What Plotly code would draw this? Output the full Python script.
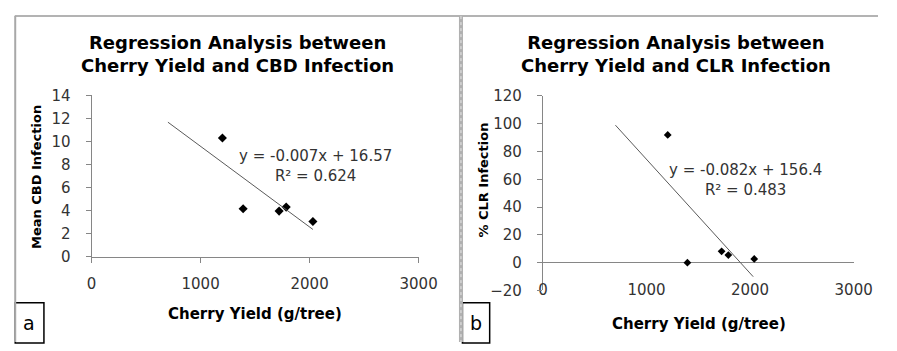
import plotly.graph_objects as go

# ---------------- data ----------------
yield_a = [1200, 1390, 1720, 1785, 2030]
cbd_infection = [10.3, 4.15, 3.95, 4.3, 3.05]
yield_b = [1205, 1395, 1725, 1790, 2040]
clr_infection = [92, 0, 8.2, 5.5, 2.7]

slope_a, intercept_a, r2_a = -0.007, 16.57, 0.624
slope_b, intercept_b, r2_b = -0.082, 156.4, 0.483
trend_x = [700, 2030]

x_ticks = [0, 1000, 2000, 3000]
y_ticks_a = [0, 2, 4, 6, 8, 10, 12, 14]
y_ticks_b = [-20, 0, 20, 40, 60, 80, 100, 120]

title_a = "Regression Analysis between<br>Cherry Yield and CBD Infection"
title_b = "Regression Analysis between<br>Cherry Yield and CLR Infection"
xlabel = "Cherry Yield (g/tree)"
ylabel_a = "Mean CBD Infection"
ylabel_b = "% CLR Infection"

# ---------------- layout helpers ----------------
W, H = 897, 351
def px(x):
    return x / W
def py(y):
    return 1 - y / H

FONT = "DejaVu Sans"
AX = "#868686"
TXT = "#333333"

fig = go.Figure()

fig.add_trace(go.Scatter(x=yield_a, y=cbd_infection, mode="markers",
                         marker=dict(symbol="diamond", size=7, color="black"),
                         xaxis="x", yaxis="y", showlegend=False))
fig.add_trace(go.Scatter(x=trend_x, y=[slope_a * v + intercept_a for v in trend_x],
                         mode="lines", line=dict(color="#5a5a5a", width=1),
                         xaxis="x", yaxis="y", showlegend=False))

fig.add_trace(go.Scatter(x=yield_b, y=clr_infection, mode="markers",
                         marker=dict(symbol="diamond", size=6, color="black"),
                         xaxis="x2", yaxis="y2", showlegend=False))
fig.add_trace(go.Scatter(x=trend_x, y=[slope_b * v + intercept_b for v in trend_x],
                         mode="lines", line=dict(color="#5a5a5a", width=1),
                         xaxis="x2", yaxis="y2", showlegend=False))

tickfont = dict(family=FONT, size=15, color=TXT)

fig.update_layout(
    width=W, height=H, margin=dict(l=0, r=0, t=0, b=0),
    paper_bgcolor="white", plot_bgcolor="white",
    xaxis=dict(domain=[px(89), px(425)], range=[0, 3000], tickvals=x_ticks,
               showline=True, linecolor=AX, linewidth=1, ticks="outside",
               ticklen=5, tickcolor=AX, showgrid=False, zeroline=False,
               tickfont=tickfont, ticklabelstandoff=8, anchor="y"),
    yaxis=dict(domain=[py(261), py(91)], range=[0, 14], tickvals=y_ticks_a,
               showline=True, linecolor=AX, linewidth=1, ticks="outside",
               ticklen=5, tickcolor=AX, showgrid=False, zeroline=False,
               tickfont=tickfont, ticklabelstandoff=12, anchor="x"),
    xaxis2=dict(domain=[px(552.7), px(872)], range=[0, 3000], tickvals=x_ticks,
                showline=False, ticks="", showgrid=False, zeroline=False,
                tickfont=tickfont, anchor="free", position=py(285)),
    yaxis2=dict(domain=[py(296.7), py(91.7)], range=[-20, 120], tickvals=y_ticks_b,
                showline=True, linecolor=AX, linewidth=1, ticks="outside",
                ticklen=5, tickcolor=AX, showgrid=False, zeroline=True,
                zerolinecolor=AX, zerolinewidth=1,
                tickfont=tickfont, ticklabelstandoff=12, anchor="x2"),
)

ann = []
def add_text(text, x, y, size, bold=False, color="black", angle=0, align="center"):
    ann.append(dict(text=(f"<b>{text}</b>" if bold else text), x=px(x), y=py(y),
                    xref="paper", yref="paper", showarrow=False, textangle=angle,
                    xanchor="center", yanchor="middle", align=align,
                    font=dict(family=FONT, size=size, color=color)))

add_text(title_a, 239, 47, 18, bold=True)
add_text(title_b, 689, 47, 18, bold=True)
add_text(xlabel, 257, 322, 15, bold=True)
add_text(xlabel, 713, 332, 15, bold=True)
add_text(ylabel_a, 33, 177, 13, bold=True, angle=-90)
add_text(ylabel_b, 492, 180, 13, bold=True, angle=-90)
add_text(f"y = {slope_a}x + {intercept_a}<br>R² = {r2_a}", 319, 165, 15, color=TXT)
add_text(f"y = {slope_b}x + {intercept_b}<br>R² = {r2_b}", 761, 180, 15, color=TXT)
add_text("a", 25, 331, 19)
add_text("b", 484, 331, 19)
fig.update_layout(annotations=ann)

shapes = [
    dict(type="line", xref="paper", yref="paper", x0=px(10), x1=1, y0=py(7.5), y1=py(7.5),
         line=dict(color="#9a9a9a", width=1.5)),
    dict(type="line", xref="paper", yref="paper", x0=px(10.5), x1=px(10.5), y0=py(7.5), y1=0,
         line=dict(color="#a8a8a8", width=2)),
    dict(type="line", xref="paper", yref="paper", x0=px(468.5), x1=px(468.5), y0=py(7.5), y1=0,
         line=dict(color="#b0b0b0", width=4)),
    dict(type="line", xref="paper", yref="paper", x0=px(468.5), x1=px(468.5), y0=py(7.5), y1=0,
         line=dict(color="#e8e8e8", width=1, dash="dot")),
    dict(type="rect", xref="paper", yref="paper", x0=px(10.5), x1=px(40), y0=py(309.5), y1=py(352),
         line=dict(color="black", width=1.5), fillcolor="white", layer="below"),
    dict(type="rect", xref="paper", yref="paper", x0=px(470), x1=px(498), y0=py(309.5), y1=py(352),
         line=dict(color="black", width=1.5), fillcolor="white", layer="below"),
]
fig.update_layout(shapes=shapes)

fig.write_html("out.html", config={"displayModeBar": False},
               post_script="document.body.style.margin='0';document.body.style.overflow='hidden';")
